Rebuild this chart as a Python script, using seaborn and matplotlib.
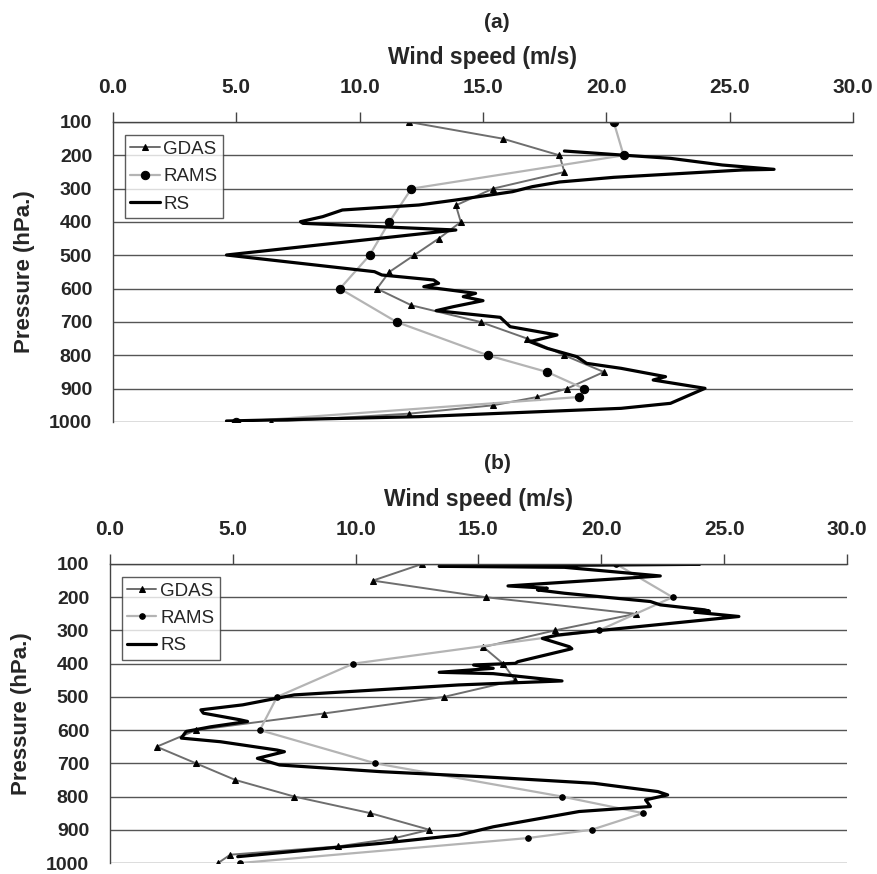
import numpy as np
import pandas as pd
import seaborn as sns
from matplotlib import pyplot as plt

# ---- data ----
# (a) model levels (hPa)
gdas_p = [100, 150, 200, 250, 300, 350, 400, 450, 500, 550, 600, 650, 700,
          750, 800, 850, 900, 925, 950, 975, 1000]
gdas_a = [12.0, 15.8, 18.1, 18.3, 15.4, 13.9, 14.1, 13.2, 12.2, 11.2, 10.7, 12.1, 14.9,
          16.8, 18.3, 19.9, 18.4, 17.2, 15.4, 12.0, 6.4]
rams_p = [100, 200, 300, 400, 500, 600, 700, 800, 850, 900, 925, 1000]
rams_a = [20.3, 20.7, 12.1, 11.2, 10.4, 9.2, 11.5, 15.2, 17.6, 19.1, 18.9, 5.0]
rs_p_a = [187, 199, 209, 229, 242, 244, 266, 280, 294, 309, 334, 349, 364, 384, 399,
          404, 424, 499, 524, 549, 559, 574, 584, 594, 614, 624, 636, 654, 666, 686,
          714, 739, 759, 779, 804, 824, 839, 864, 874, 899, 944, 959, 984, 997]
rs_a = [18.3, 20.6, 22.6, 24.7, 26.8, 25.5, 20.3, 18.1, 17.0, 16.2, 13.9, 12.4, 9.3, 8.5, 7.6,
        7.7, 13.9, 4.6, 7.6, 10.6, 10.9, 13.0, 13.2, 12.6, 14.7, 14.2, 15.0, 13.8, 13.1, 15.7,
        16.1, 18.0, 16.9, 17.6, 18.8, 19.2, 20.6, 22.4, 21.9, 24.0, 22.6, 20.6, 12.4, 4.6]

# (b)
gdas_b = [12.7, 10.7, 15.3, 21.4, 18.1, 15.2, 16.0, 16.5, 13.6, 8.7, 3.5, 1.9, 3.5,
          5.1, 7.5, 10.6, 13.0, 11.6, 9.3, 4.9, 4.4]
rams_p_b = [100, 200, 300, 400, 500, 600, 700, 800, 850, 900, 925, 1000]
rams_b = [20.6, 22.9, 19.9, 9.9, 6.8, 6.1, 10.8, 18.4, 21.7, 19.6, 17.0, 5.3]
rs_p_b = [100, 101, 107, 110, 136, 166, 173, 178, 188, 213, 223, 238, 242, 245, 258,
          299, 314, 324, 349, 355, 394, 399, 404, 414, 426, 430, 452, 464, 494, 524,
          539, 549, 569, 574, 590, 604, 624, 635, 660, 665, 685, 705, 725, 740, 760,
          785, 795, 810, 830, 845, 891, 916, 941, 951, 981]
rs_b = [20.5, 24.0, 13.4, 18.5, 22.4, 16.2, 17.8, 17.4, 18.5, 22.0, 22.4, 24.2, 24.4, 23.8, 25.6,
        20.1, 18.2, 17.6, 18.7, 18.8, 16.6, 16.5, 14.8, 15.6, 13.4, 15.6, 18.4, 14.2, 7.5, 5.4,
        3.7, 3.8, 5.3, 5.6, 4.1, 3.1, 2.9, 4.5, 6.8, 7.1, 6.0, 6.9, 11.0, 15.1, 19.7,
        22.3, 22.7, 21.8, 22.0, 19.1, 15.6, 14.2, 11.0, 9.5, 5.2]

xticks = [0, 5, 10, 15, 20, 25, 30]
yticks = [100, 200, 300, 400, 500, 600, 700, 800, 900, 1000]

sns.set_style('white')
plt.rcParams['font.family'] = ['Liberation Sans', 'DejaVu Sans']

fig = plt.figure(figsize=(8.78, 8.74), dpi=100)
ax_a = fig.add_axes([113 / 878, 1 - 422 / 874, 740 / 878, 300 / 874])
ax_b = fig.add_axes([110 / 878, 1 - 863 / 874, 737 / 878, 299 / 874])


def draw_panel(ax, gdas, rams_p, rams, rs_p, rs, ms_rams):
    sns.lineplot(x=gdas, y=gdas_p, ax=ax, sort=False, estimator=None, color='#6e6e6e',
                 lw=1.4, marker='^', markersize=5, markerfacecolor='black',
                 markeredgecolor='black', label='GDAS')
    sns.lineplot(x=rams, y=rams_p, ax=ax, sort=False, estimator=None, color='#b4b4b4',
                 lw=1.6, marker='o', markersize=ms_rams, markerfacecolor='black',
                 markeredgecolor='black', label='RAMS')
    sns.lineplot(x=rs, y=rs_p, ax=ax, sort=False, estimator=None, color='black',
                 lw=2.3, label='RS')
    ax.set_xlim(0, 30)
    ax.set_ylim(1000, 100)
    ax.set_xticks(xticks)
    ax.set_xticklabels(['%.1f' % t for t in xticks])
    ax.set_yticks(yticks)
    ax.xaxis.tick_top()
    ax.xaxis.set_label_position('top')
    ax.tick_params(axis='both', length=7, width=1, color='#444444', direction='out')
    ax.tick_params(axis='x', labelsize=15, pad=11)
    ax.tick_params(axis='y', labelsize=14, pad=8)
    for lab in ax.get_xticklabels() + ax.get_yticklabels():
        lab.set_fontweight('bold')
    ax.grid(axis='y', color='#555555', lw=1)
    ax.grid(axis='x', visible=False)
    for s in ['right', 'bottom']:
        ax.spines[s].set_visible(False)
    for s in ['left', 'top']:
        ax.spines[s].set_color('#444444')
        ax.spines[s].set_linewidth(1)
    ax.set_xlabel('Wind speed (m/s)', fontsize=16.5, fontweight='bold', labelpad=10)
    ax.set_ylabel('Pressure (hPa.)', fontsize=16, fontweight='bold', labelpad=10)
    leg = ax.legend(loc='upper left', bbox_to_anchor=(0.016, 0.957), borderaxespad=0,
                    fontsize=13.5, frameon=True, fancybox=False, handlelength=1.55,
                    handletextpad=0.2, labelspacing=0.55, borderpad=0.3)
    leg.get_frame().set_edgecolor('#333333')
    leg.get_frame().set_linewidth(1)


draw_panel(ax_a, gdas_a, rams_p, rams_a, rs_p_a, rs_a, 6)
draw_panel(ax_b, gdas_b, rams_p_b, rams_b, rs_p_b, rs_b, 4)

fig.text(497 / 878, 1 - 22 / 874, '(a)', ha='center', va='center', fontsize=15,
         fontweight='bold')
fig.text(497 / 878, 1 - 464 / 874, '(b)', ha='center', va='center', fontsize=15,
         fontweight='bold')

fig.savefig('out.png', dpi=100)
